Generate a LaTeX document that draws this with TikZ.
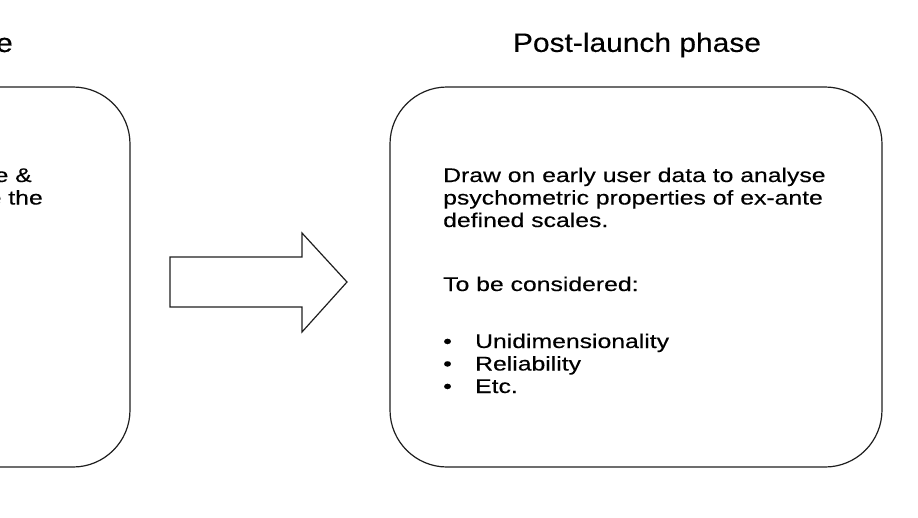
\documentclass[tikz,border=0pt]{standalone}
\usepackage{fontspec}
\setmainfont[FakeStretch=1.25, FakeBold=0.3]{Liberation Sans}
\newfontfamily\headfont[FakeStretch=1.13, FakeBold=0.3]{Liberation Sans}
\usetikzlibrary{positioning}
\definecolor{lineblack}{RGB}{30, 30, 30}

\begin{document}
\begin{tikzpicture}[
    x=1pt, y=-1pt,
    phasebox/.style={draw=lineblack, line width=1.2pt, rounded corners=57pt, minimum width=492pt, minimum height=380pt},
    head/.style={font=\headfont\fontsize{26.5}{30}\selectfont, inner sep=0pt},
    body/.style={font=\fontsize{19.8}{22.5}\selectfont, inner sep=0pt, align=left},
    flowarrow/.style={draw=lineblack, line width=1.2pt, line join=miter}
]

    \useasboundingbox (0,0) rectangle (918,517);
    \clip (0,0) rectangle (918,517);

    % Left phase (cut off)
    \node[head, anchor=base east] (pretitle) at (13,52) {e};
    \node[phasebox] (pre) at (-116,277) {};
    \node[body, anchor=base east] (prea) at (32,182) {e \&};
    \node[body, anchor=base east] (preb) at (43,204.5) {e the};

    % Right phase
    \node[head] (posttitle) at (637,45) {Post-launch phase};
    \node[phasebox] (post) at (636,277) {};
    \node[body, anchor=base west] (aim) at (443,182) {Draw on early user data to analyse};
    \node[body, anchor=base west] (aimb) at (443,204.5) {psychometric properties of ex-ante};
    \node[body, anchor=base west] (aimc) at (443,227) {defined scales.};
    \node[body, anchor=base west] (consider) at (443,291) {To be considered:};
    \node[body, anchor=base west] (itema) at (443,348) {\makebox[32pt][l]{•}Unidimensionality};
    \node[body, anchor=base west] (itemb) at (443,370.5) {\makebox[32pt][l]{•}Reliability};
    \node[body, anchor=base west] (itemc) at (443,393) {\makebox[32pt][l]{•}Etc.};

    % Arrow between phases
    \coordinate (tail) at (170,282);
    \coordinate (tip) at (347,282);
    \draw[flowarrow] (tail) ++(0,-25) -- (302,257) -- (302,233) -- (tip)
        -- (302,332) -- (302,307) -- (170,307) -- cycle;

\end{tikzpicture}
\end{document}
